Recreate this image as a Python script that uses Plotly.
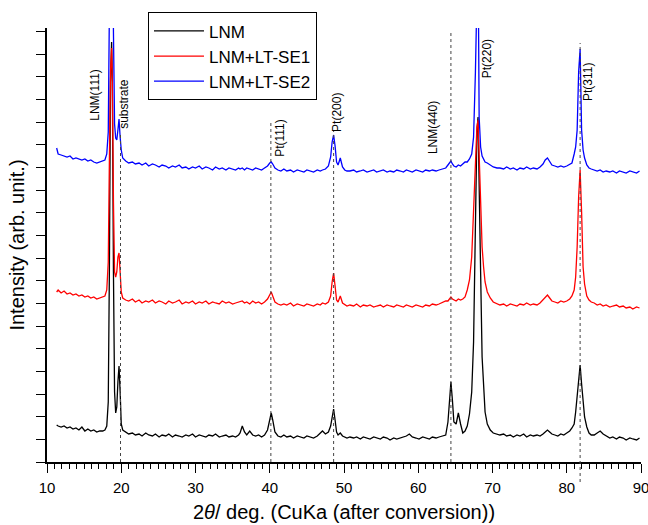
import plotly.graph_objects as go

# ---------------- data ----------------
two_theta = (
    [11.3, 11.5, 11.9, 12.3, 12.7, 13.1, 13.5, 13.9, 14.3, 14.7, 15.1, 15.5, 15.9, 16.3, 16.7, 17.1, 17.5]
    + [17.8, 18.05, 18.25, 18.4, 18.55, 18.7, 18.8, 18.95, 19.1, 19.25, 19.4, 19.55, 19.7, 19.85, 20.0, 20.2, 20.4]
    + [20.6, 21.0, 21.5, 21.9, 22.4, 22.8, 23.3, 23.7, 24.2, 24.6, 25.1, 25.5, 26.0, 26.4, 26.9, 27.3, 27.8, 28.2,
       28.7, 29.1, 29.6, 30.0, 30.5, 30.9, 31.4, 31.8, 32.3, 32.7, 33.2, 33.6, 34.1, 34.5, 35.0, 35.4, 35.8]
    + [36.0, 36.3, 36.6, 36.9, 37.3, 37.7, 38.1, 38.5, 38.9, 39.3, 39.7, 40.0, 40.2, 40.4, 40.7, 41.1, 41.5]
    + [41.9, 42.3, 42.8, 43.2, 43.7, 44.1, 44.6, 45.0, 45.5, 45.9, 46.4, 46.8, 47.1, 47.5, 47.9]
    + [48.2, 48.4, 48.6, 48.8, 49.0, 49.2, 49.5, 49.8, 50.1, 50.4]
    + [50.8, 51.3, 51.7, 52.2, 52.6, 53.1, 53.5, 54.0, 54.4, 54.9, 55.3, 55.8, 56.2, 56.7, 57.1, 57.6, 58.0, 58.4,
       58.8, 59.2, 59.7, 60.1, 60.6, 61.0, 61.5, 61.9, 62.4, 62.8, 63.3, 63.7]
    + [64.0, 64.2, 64.4, 64.6, 64.8, 65.1, 65.4, 65.7, 66.0, 66.3, 66.6, 66.9, 67.2, 67.45, 67.7, 67.9, 68.05,
       68.2, 68.4, 68.6, 68.8, 69.0, 69.3, 69.7, 70.1, 70.6]
    + [71.0, 71.5, 71.9, 72.4, 72.8, 73.3, 73.7, 74.2, 74.6, 75.1, 75.5, 76.0, 76.4, 76.8, 77.1, 77.4, 77.7, 78.0,
       78.4, 78.8, 79.2, 79.6, 80.0, 80.4]
    + [80.7, 81.0, 81.2, 81.4, 81.6, 81.8, 82.0, 82.2, 82.4, 82.7, 83.0, 83.3]
    + [83.7, 84.1, 84.5, 84.9, 85.3, 85.8, 86.2, 86.7, 87.1, 87.6, 88.0, 88.5, 88.9, 89.4, 89.8]
)

lnm = (
    [37, 36, 35, 36, 34, 35, 33, 34, 32, 35, 31, 33, 31, 32, 30, 31, 31]
    + [32, 36, 60, 190, 380, 420, 380, 190, 70, 49, 55, 80, 96, 70, 38, 32, 31]
    + [30, 28, 29, 27, 28, 26, 29, 27, 26, 28, 25, 27, 26, 28, 25, 27, 26, 25,
       27, 26, 28, 25, 27, 26, 25, 27, 26, 28, 25, 26, 27, 25, 26, 25, 27]
    + [29, 36, 30, 27, 31, 27, 26, 27, 25, 27, 32, 44, 49, 42, 30, 26, 25]
    + [27, 25, 26, 24, 26, 25, 24, 26, 25, 24, 26, 29, 31, 28, 30]
    + [36, 46, 53, 42, 30, 27, 29, 26, 25, 24]
    + [25, 24, 25, 23, 25, 24, 23, 25, 24, 23, 25, 24, 22, 24, 23, 24, 25, 26,
       28, 25, 24, 23, 25, 24, 23, 25, 24, 25, 26, 27]
    + [40, 65, 80, 62, 40, 38, 49, 38, 29, 31, 36, 48, 70, 120, 242, 330, 345,
       290, 190, 105, 70, 50, 38, 32, 29, 28]
    + [27, 28, 26, 27, 25, 27, 26, 28, 25, 27, 26, 27, 26, 28, 30, 32, 30, 28,
       27, 26, 28, 27, 29, 31]
    + [34, 38, 50, 65, 85, 97, 78, 57, 45, 35, 29, 27]
    + [27, 29, 31, 28, 26, 24, 25, 23, 25, 24, 22, 24, 23, 22, 24]
)

lnm_se1 = (
    [170, 172, 169, 171, 168, 169, 167, 168, 166, 167, 165, 166, 164, 165, 163, 164, 165]
    + [166, 172, 200, 300, 390, 414, 380, 260, 190, 185, 190, 205, 209, 190, 170, 164, 163]
    + [162, 161, 163, 160, 162, 159, 161, 160, 162, 159, 161, 160, 158, 161, 159, 160, 162, 158,
       160, 159, 161, 158, 160, 159, 161, 158, 160, 159, 158, 161, 159, 160, 158, 159, 160]
    + [160, 161, 159, 160, 158, 161, 159, 160, 158, 160, 163, 168, 170, 166, 160, 158, 157]
    + [158, 157, 159, 156, 158, 157, 156, 158, 157, 156, 158, 157, 159, 158, 160]
    + [166, 180, 189, 176, 162, 160, 166, 159, 157, 156]
    + [157, 156, 158, 155, 157, 156, 157, 155, 156, 157, 155, 157, 156, 155, 157, 156, 155, 157,
       156, 155, 157, 156, 155, 157, 156, 158, 157, 158, 160, 161]
    + [161, 163, 165, 163, 162, 161, 163, 162, 163, 165, 172, 182, 205, 255, 305, 335, 342,
       300, 255, 215, 195, 180, 170, 164, 160, 158]
    + [157, 158, 156, 158, 157, 156, 158, 157, 159, 157, 158, 157, 159, 162, 165, 167, 164, 161,
       160, 159, 161, 160, 161, 163]
    + [166, 172, 185, 215, 265, 292, 250, 195, 178, 166, 162, 160]
    + [159, 157, 158, 156, 157, 155, 156, 157, 155, 156, 154, 155, 153, 155, 154]
)

lnm_se2 = (
    [314, 308, 307, 306, 305, 306, 303, 304, 303, 302, 303, 301, 302, 300, 299, 300, 301]
    + [302, 308, 330, 450, 550, 600, 560, 430, 338, 324, 322, 332, 343, 325, 312, 304, 302]
    + [301, 299, 300, 298, 299, 297, 299, 296, 298, 297, 295, 297, 296, 294, 296, 295, 297, 294,
       295, 293, 295, 294, 296, 293, 295, 294, 292, 295, 293, 294, 292, 294, 293, 292, 294]
    + [293, 294, 292, 294, 293, 292, 294, 293, 292, 294, 296, 299, 300, 298, 294, 292, 291]
    + [293, 291, 292, 290, 292, 291, 290, 292, 291, 290, 292, 291, 292, 293, 296]
    + [305, 320, 327, 316, 300, 297, 304, 295, 292, 291]
    + [291, 292, 290, 291, 292, 290, 291, 292, 290, 291, 292, 290, 291, 290, 292, 291, 290, 292,
       291, 290, 292, 291, 290, 292, 291, 292, 291, 292, 293, 294]
    + [297, 299, 301, 298, 296, 295, 297, 296, 298, 300, 300, 303, 308, 325, 390, 520, 520,
       345, 315, 306, 302, 300, 299, 297, 295, 294]
    + [294, 293, 295, 293, 294, 292, 294, 293, 295, 293, 294, 293, 295, 298, 302, 304, 300, 297,
       296, 295, 296, 295, 296, 298]
    + [299, 308, 315, 332, 390, 413, 332, 312, 304, 297, 294, 293]
    + [292, 291, 292, 290, 291, 290, 291, 289, 291, 290, 289, 291, 290, 289, 291]
)

series_names = ["LNM", "LNM+LT-SE1", "LNM+LT-SE2"]
series_colors = ["#000000", "#ff0000", "#0000ff"]

ref_x = [19.9, 40.15, 48.6, 64.4, 81.8]
ref_top = [330, 339, 332, 429, 419]
ref_bottom = [0, 0, 0, 0, -20]

label_text = ["LNM(111)", "substrate", "Pt(111)", "Pt(200)", "LNM(440)", "Pt(220)", "Pt(311)"]
label_x = [16.43, 20.35, 41.36, 49.05, 62.0, 69.3, 82.87]
label_y = [367, 358, 324, 350, 334, 403, 380]

x_ticks = [10, 20, 30, 40, 50, 60, 70, 80, 90]
x_range = [10, 90]
y_range = [0, 434]

assert len(two_theta) == len(lnm) == len(lnm_se1) == len(lnm_se2)

FONT = "Liberation Sans, Arial, sans-serif"

fig = go.Figure()
for name, col, ys in zip(series_names, series_colors, [lnm, lnm_se1, lnm_se2]):
    fig.add_trace(go.Scatter(x=two_theta, y=ys, mode="lines", name=name,
                             line=dict(color=col, width=1.3)))

# dotted reference lines: x in data units, y converted through the y-axis range
# (paper reference so the Pt(311) marker can run a little below the axis)
y_span = y_range[1] - y_range[0]
for xv, y0, y1 in zip(ref_x, ref_bottom, ref_top):
    fig.add_shape(type="line", xref="x", yref="paper", x0=xv, x1=xv,
                  y0=(y0 - y_range[0]) / y_span, y1=(y1 - y_range[0]) / y_span,
                  line=dict(color="#444444", width=1, dash="dot"), layer="above")

for t, xv, yv in zip(label_text, label_x, label_y):
    fig.add_annotation(x=xv, y=yv, xref="x", yref="y", text=t, showarrow=False,
                       textangle=-90, xanchor="center", yanchor="middle",
                       font=dict(family=FONT, size=12, color="#000000"))

fig.update_layout(
    width=648, height=525,
    margin=dict(l=47, r=7, t=28, b=63, autoexpand=False),
    paper_bgcolor="white", plot_bgcolor="white",
    font=dict(family=FONT, color="#000000"),
    showlegend=True,
    legend=dict(x=0.17, y=1.036, xanchor="left", yanchor="top",
                bgcolor="white", bordercolor="#000000", borderwidth=1,
                font=dict(family=FONT, size=17, color="#000000"),
                tracegroupgap=0, itemwidth=50),
    xaxis=dict(range=x_range, tickmode="array", tickvals=x_ticks, automargin=False,
               ticks="outside", ticklen=9, tickwidth=1.2, tickcolor="#000000",
               ticklabeloverflow="allow", ticklabelstandoff=2,
               minor=dict(dtick=1, ticks="outside", ticklen=5, tickwidth=1, tickcolor="#000000"),
               showline=True, linecolor="#000000", linewidth=1.5, showgrid=False,
               zeroline=False, tickfont=dict(family=FONT, size=15),
               title=dict(text="2<i>θ</i>/ deg. (CuKa (after conversion))",
                          font=dict(family=FONT, size=20), standoff=10)),
    yaxis=dict(range=y_range, tick0=0, dtick=22.65, ticks="outside", ticklen=9,
               tickwidth=1.2, tickcolor="#000000", showticklabels=False, automargin=False,
               showline=True, linecolor="#000000", linewidth=1.5, showgrid=False,
               zeroline=False,
               title=dict(text="Intensity (arb. unit.)", font=dict(family=FONT, size=20),
                          standoff=6)),
)

fig.write_html("out.html", config={"displayModeBar": False},
               post_script="document.body.style.margin='0';document.body.style.overflow='hidden';")
